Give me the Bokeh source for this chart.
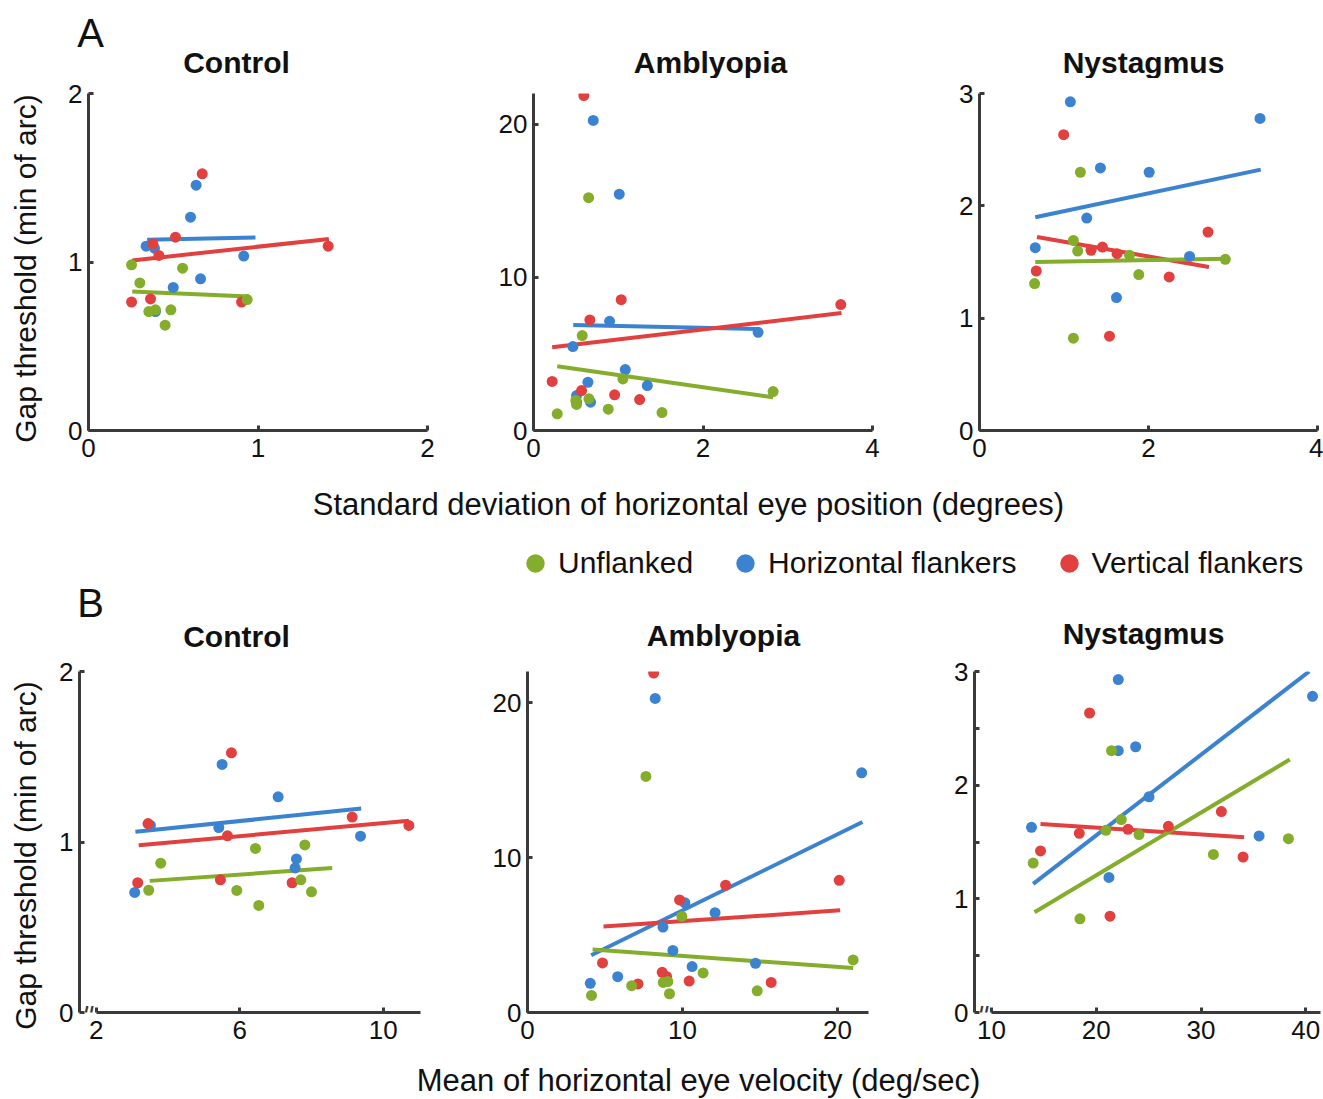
from bokeh.plotting import figure
from bokeh.models import Range1d, FixedTicker, Label, Legend, LegendItem
from bokeh.layouts import column, row
from bokeh.embed import file_html
from bokeh.resources import INLINE

GREEN = "#83ad2b"
BLUE = "#3b83d1"
RED = "#e23f3f"
AXIS_COLOR = "#3a3a3a"
TICK_FONT = "Liberation Sans"
TEXT_FONT = "Liberation Sans"
SERIES = ["Unflanked", "Horizontal flankers", "Vertical flankers"]
GROUPS = ["Control", "Amblyopia", "Nystagmus"]
YLAB = "Gap threshold (min of arc)"
XLAB_A = "Standard deviation of horizontal eye position (degrees)"
XLAB_B = "Mean of horizontal eye velocity (deg/sec)"

# ---------------- A: SD of horizontal eye position (deg) ----------------
A_CTRL_UNF_X = [0.254, 0.303, 0.555, 0.356, 0.395, 0.486, 0.452, 0.936]
A_CTRL_UNF_Y = [0.983, 0.876, 0.963, 0.706, 0.716, 0.716, 0.625, 0.777]
A_CTRL_HOR_X = [0.635, 0.602, 0.340, 0.389, 0.916, 0.661, 0.500, 0.395]
A_CTRL_HOR_Y = [1.456, 1.266, 1.094, 1.082, 1.035, 0.900, 0.849, 0.706]
A_CTRL_VER_X = [0.671, 0.380, 0.513, 0.415, 1.414, 0.254, 0.366, 0.903]
A_CTRL_VER_Y = [1.523, 1.108, 1.147, 1.039, 1.094, 0.762, 0.781, 0.762]
A_CTRL_FIT_UNF = ([0.258, 0.946], [0.825, 0.795])
A_CTRL_FIT_HOR = ([0.346, 0.985], [1.132, 1.145])
A_CTRL_FIT_VER = ([0.258, 1.418], [1.009, 1.137])

A_AMB_UNF_X = [0.650, 0.575, 1.055, 2.827, 0.280, 0.500, 0.508, 0.654, 0.882, 1.516]
A_AMB_UNF_Y = [15.2, 6.20, 3.37, 2.54, 1.09, 1.96, 1.70, 2.07, 1.39, 1.17]
A_AMB_HOR_X = [0.705, 1.012, 0.898, 2.650, 0.465, 1.083, 0.642, 1.343, 0.508, 0.673]
A_AMB_HOR_Y = [20.24, 15.43, 7.13, 6.41, 5.48, 3.98, 3.15, 2.93, 2.28, 1.85]
A_AMB_VER_X = [0.594, 1.035, 0.665, 3.626, 0.220, 0.567, 0.508, 0.957, 1.252]
A_AMB_VER_Y = [21.87, 8.54, 7.22, 8.22, 3.20, 2.61, 1.85, 2.33, 2.02]
A_AMB_FIT_UNF = ([0.280, 2.827], [4.20, 2.17])
A_AMB_FIT_HOR = ([0.469, 2.650], [6.89, 6.63])
A_AMB_FIT_VER = ([0.220, 3.634], [5.43, 7.67])

A_NYS_UNF_X = [1.194, 1.111, 1.162, 1.775, 2.909, 1.885, 0.652, 1.111]
A_NYS_UNF_Y = [2.299, 1.692, 1.598, 1.559, 1.524, 1.388, 1.308, 0.822]
A_NYS_HOR_X = [1.075, 3.320, 1.431, 2.008, 1.269, 0.660, 2.486, 1.621]
A_NYS_HOR_Y = [2.926, 2.778, 2.337, 2.299, 1.891, 1.627, 1.550, 1.183]
A_NYS_VER_X = [0.996, 2.704, 1.320, 1.455, 1.628, 0.672, 2.245, 1.538]
A_NYS_VER_Y = [2.633, 1.766, 1.604, 1.633, 1.574, 1.420, 1.367, 0.840]
A_NYS_FIT_UNF = ([0.660, 2.925], [1.500, 1.530])
A_NYS_FIT_HOR = ([0.660, 3.328], [1.899, 2.322])
A_NYS_FIT_VER = ([0.680, 2.715], [1.722, 1.456])

# ---------------- B: mean horizontal eye velocity (deg/sec) ----------------
B_CTRL_UNF_X = [3.795, 6.437, 7.814, 3.460, 5.916, 6.530, 7.702, 8.000]
B_CTRL_UNF_Y = [0.876, 0.962, 0.983, 0.717, 0.716, 0.628, 0.778, 0.708]
B_CTRL_HOR_X = [5.507, 7.070, 5.414, 9.367, 7.581, 7.544, 3.070, 3.507]
B_CTRL_HOR_Y = [1.455, 1.265, 1.085, 1.034, 0.901, 0.848, 0.704, 1.097]
B_CTRL_VER_X = [5.767, 3.442, 5.656, 9.135, 10.716, 3.153, 5.460, 7.460]
B_CTRL_VER_Y = [1.523, 1.108, 1.036, 1.146, 1.097, 0.761, 0.778, 0.761]
B_CTRL_FIT_UNF = ([3.488, 8.577], [0.772, 0.847])
B_CTRL_FIT_HOR = ([3.088, 9.386], [1.060, 1.196])
B_CTRL_FIT_VER = ([3.181, 10.716], [0.981, 1.124])

B_AMB_UNF_X = [7.64, 9.96, 21.01, 11.33, 8.76, 9.05, 6.72, 9.16, 4.13, 14.82]
B_AMB_UNF_Y = [15.23, 6.20, 3.39, 2.55, 1.94, 2.00, 1.73, 1.21, 1.10, 1.40]
B_AMB_HOR_X = [8.24, 21.56, 10.15, 12.10, 8.74, 9.38, 10.62, 14.71, 5.82, 4.05]
B_AMB_HOR_Y = [20.26, 15.46, 7.08, 6.44, 5.51, 4.00, 2.96, 3.17, 2.31, 1.88]
B_AMB_VER_X = [8.14, 12.78, 20.11, 9.81, 4.84, 8.69, 8.97, 7.13, 10.43, 15.72]
B_AMB_VER_Y = [21.90, 8.21, 8.53, 7.26, 3.20, 2.59, 2.33, 1.84, 2.03, 1.94]
B_AMB_FIT_UNF = ([4.20, 21.01], [4.06, 2.87])
B_AMB_FIT_HOR = ([4.11, 21.61], [3.69, 12.29])
B_AMB_FIT_VER = ([4.90, 20.17], [5.55, 6.59])

B_NYS_UNF_X = [21.46, 22.39, 20.92, 24.08, 38.34, 31.18, 13.98, 18.44]
B_NYS_UNF_Y = [2.303, 1.697, 1.603, 1.565, 1.529, 1.391, 1.315, 0.824]
B_NYS_HOR_X = [22.10, 40.64, 23.76, 22.10, 25.03, 13.82, 35.54, 21.21]
B_NYS_HOR_Y = [2.929, 2.782, 2.338, 2.303, 1.897, 1.629, 1.553, 1.188]
B_NYS_VER_X = [19.36, 31.94, 18.38, 23.03, 26.88, 14.68, 34.01, 21.31]
B_NYS_VER_Y = [2.635, 1.768, 1.576, 1.612, 1.638, 1.421, 1.368, 0.847]
B_NYS_FIT_UNF = ([14.11, 38.47], [0.882, 2.226])
B_NYS_FIT_HOR = ([13.98, 40.32], [1.132, 3.000])
B_NYS_FIT_VER = ([14.68, 34.11], [1.659, 1.541])


def panel(width, height, bl, br, bt, bb, xr, yr, xticks, yticks, yminor=None, xbounds=None):
    p = figure(width=width, height=height, x_range=Range1d(*xr), y_range=Range1d(*yr),
               output_backend="svg", toolbar_location=None, title=None,
               min_border_left=bl, min_border_right=br,
               min_border_top=bt, min_border_bottom=bb)
    p.grid.visible = False
    p.outline_line_color = None
    for ax, ticks, minor in ((p.xaxis[0], xticks, []), (p.yaxis[0], yticks, yminor or [])):
        ax.ticker = FixedTicker(ticks=ticks, minor_ticks=minor)
        ax.axis_line_color = AXIS_COLOR
        ax.axis_line_width = 3
        ax.major_tick_line_color = AXIS_COLOR
        ax.major_tick_line_width = 3
        ax.major_tick_in = 5
        ax.major_tick_out = 0
        ax.minor_tick_line_color = AXIS_COLOR if minor else None
        ax.minor_tick_line_width = 3
        ax.minor_tick_in = 5
        ax.minor_tick_out = 0
        ax.major_label_text_font = TICK_FONT
        ax.major_label_text_font_size = "26px"
        ax.major_label_text_color = "#111111"
    p.xaxis.major_label_standoff = 8
    p.yaxis.major_label_standoff = 6
    if xbounds is not None:
        # broken x axis: the line starts a little right of the y axis
        p.xaxis[0].bounds = xbounds
    return p


def add_data(p, fits, pts):
    colors = [GREEN, BLUE, RED]
    for i in (1, 2, 0):
        fx, fy = fits[i]
        p.line(fx, fy, line_color=colors[i], line_width=4)
    for i in (1, 2, 0):
        x, y = pts[i]
        p.scatter(x, y, size=11, fill_color=colors[i], line_color=None)


def txt(p, x, y, s, size, bold=False, angle=0.0):
    p.add_layout(Label(x=x, y=y, x_units="screen", y_units="screen", text=s,
                       text_font=TEXT_FONT, text_font_size=f"{size}px",
                       text_font_style="bold" if bold else "normal",
                       text_align="center", text_baseline="middle",
                       angle=angle, text_color="#111111"))


def brk(p, x):
    p.add_layout(Label(x=x, y=0, x_units="screen", y_units="screen", text="//",
                       text_font=TEXT_FONT, text_font_size="19px", text_font_style="bold",
                       text_align="center", text_baseline="alphabetic",
                       text_color=AXIS_COLOR))


def strip(width, height):
    s = figure(width=width, height=height, x_range=Range1d(0, 1), y_range=Range1d(0, 1),
               output_backend="svg", toolbar_location=None, title=None,
               x_axis_location=None, y_axis_location=None, min_border=0)
    s.grid.visible = False
    s.outline_line_color = None
    return s


# ---------------- left strip: y labels ----------------
left = strip(50, 1099)
txt(left, 25, 831, YLAB, 30, angle=1.5707963)
txt(left, 25, 244, YLAB, 30, angle=1.5707963)

# ---------------- top strip: panel letter + titles ----------------
top = strip(1273, 78)
txt(top, 40, 46, "A", 40)
txt(top, 186, 16, GROUPS[0], 30, bold=True)
txt(top, 660, 16, GROUPS[1], 30, bold=True)
txt(top, 1093, 16, GROUPS[2], 30, bold=True)

# ---------------- Row A ----------------
a1 = panel(420, 398, 38, 43, 15, 46, (0, 2), (0, 2), [0, 1, 2], [0, 1, 2])
add_data(a1, (A_CTRL_FIT_UNF, A_CTRL_FIT_HOR, A_CTRL_FIT_VER),
         ((A_CTRL_UNF_X, A_CTRL_UNF_Y), (A_CTRL_HOR_X, A_CTRL_HOR_Y), (A_CTRL_VER_X, A_CTRL_VER_Y)))

a2 = panel(460, 398, 63, 58, 15, 46, (0, 4), (0, 22), [0, 2, 4], [0, 10, 20])
add_data(a2, (A_AMB_FIT_UNF, A_AMB_FIT_HOR, A_AMB_FIT_VER),
         ((A_AMB_UNF_X, A_AMB_UNF_Y), (A_AMB_HOR_X, A_AMB_HOR_Y), (A_AMB_VER_X, A_AMB_VER_Y)))

a3 = panel(393, 398, 49, 6, 15, 46, (0, 4), (0, 3), [0, 2, 4], [0, 1, 2, 3])
add_data(a3, (A_NYS_FIT_UNF, A_NYS_FIT_HOR, A_NYS_FIT_VER),
         ((A_NYS_UNF_X, A_NYS_UNF_Y), (A_NYS_HOR_X, A_NYS_HOR_Y), (A_NYS_VER_X, A_NYS_VER_Y)))

# ---------------- middle strip: x label, legend, panel letter, titles ----------------
mid = strip(1273, 177)
txt(mid, 638, 149, XLAB_A, 31)
txt(mid, 40, 51, "B", 40)
txt(mid, 186, 17, GROUPS[0], 30, bold=True)
txt(mid, 673, 18, GROUPS[1], 30, bold=True)
txt(mid, 1093, 20, GROUPS[2], 30, bold=True)
nan = float("nan")
proxies = [mid.scatter(x=[nan], y=[nan], size=11, fill_color=c, line_color=None)
           for c in (GREEN, BLUE, RED)]
legend = Legend(items=[LegendItem(label=s, renderers=[r]) for s, r in zip(SERIES, proxies)],
                orientation="horizontal", location=(462, 67),
                glyph_width=46, glyph_height=46, label_standoff=0, spacing=29,
                padding=0, margin=0, border_line_color=None, background_fill_alpha=0,
                label_text_font=TEXT_FONT, label_text_font_size="30px",
                label_text_color="#111111", label_height=46)
mid.add_layout(legend, "center")

# ---------------- Row B ----------------
b1 = panel(410, 411, 29, 40, 18, 52, (1.53, 11.04), (0, 2), [2, 6, 10], [0, 1, 2],
           xbounds=(2, 11.04))
add_data(b1, (B_CTRL_FIT_UNF, B_CTRL_FIT_HOR, B_CTRL_FIT_VER),
         ((B_CTRL_UNF_X, B_CTRL_UNF_Y), (B_CTRL_HOR_X, B_CTRL_HOR_Y), (B_CTRL_VER_X, B_CTRL_VER_Y)))
brk(b1, 9)

b2 = panel(465, 411, 67, 57, 18, 52, (0, 22), (0, 22), [0, 10, 20], [0, 10, 20])
add_data(b2, (B_AMB_FIT_UNF, B_AMB_FIT_HOR, B_AMB_FIT_VER),
         ((B_AMB_UNF_X, B_AMB_UNF_Y), (B_AMB_HOR_X, B_AMB_HOR_Y), (B_AMB_VER_X, B_AMB_VER_Y)))

b3 = panel(398, 411, 49, 3, 18, 52, (8.38, 41.4), (0, 3), [10, 20, 30, 40], [0, 1, 2, 3],
           yminor=[0.5, 1.5, 2.5], xbounds=(10, 41.4))
add_data(b3, (B_NYS_FIT_UNF, B_NYS_FIT_HOR, B_NYS_FIT_VER),
         ((B_NYS_UNF_X, B_NYS_UNF_Y), (B_NYS_HOR_X, B_NYS_HOR_Y), (B_NYS_VER_X, B_NYS_VER_Y)))
brk(b3, 9)

# ---------------- bottom strip: x label ----------------
bot = strip(1273, 35)
txt(bot, 648, 19, XLAB_B, 31)

right = column(top, row(a1, a2, a3, spacing=0), mid, row(b1, b2, b3, spacing=0), bot, spacing=0)
layout = row(left, right, spacing=0)

open("out.html", "w").write(file_html(layout, INLINE))
